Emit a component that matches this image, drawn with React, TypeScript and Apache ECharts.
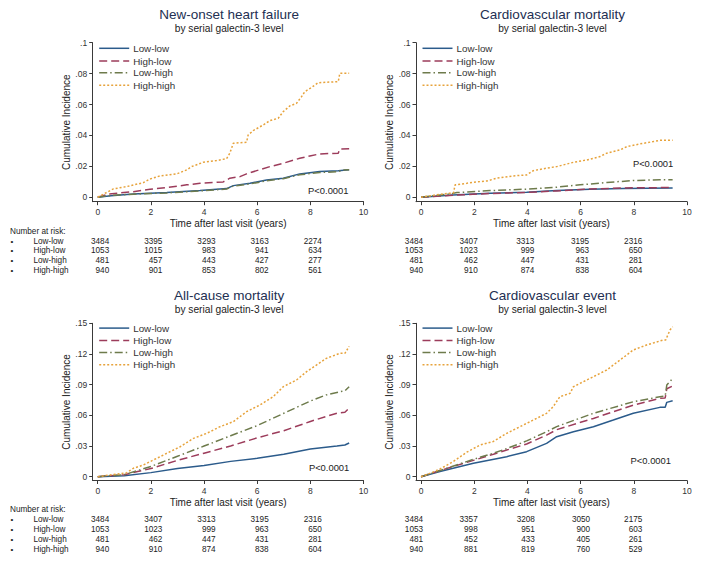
import React, { useEffect, useRef } from 'react';
import * as echarts from 'echarts';

const FONT = '"Liberation Sans", Arial, Helvetica, sans-serif';

const groups = ['Low-low', 'High-low', 'Low-high', 'High-high'];
const colors = ['#2b5b8b', '#9c3c5b', '#6e7b4c', '#e7a33c'];
const dashes: any[] = ['solid', [8, 4], [8, 3, 1.5, 3], [2, 2]];

const xTicks = [0, 2, 4, 6, 8, 10];
const riskTimes = [0, 2, 4, 6, 8];
const yTicksTop = [0, 0.02, 0.04, 0.06, 0.08, 0.1];
const yTicksBottom = [0, 0.03, 0.06, 0.09, 0.12, 0.15];

// New-onset heart failure
const hfLowLow = [[0, 0], [0.5, 0.001], [1.34, 0.0021], [2.6, 0.003], [3.85, 0.0043], [4.85, 0.0056], [5.1, 0.0075], [5.73, 0.009], [6.35, 0.0112], [6.98, 0.0123], [7.6, 0.0151], [7.98, 0.0159], [8.35, 0.0166], [9.05, 0.0172], [9.46, 0.0178]];
const hfHighLow = [[0, 0], [0.41, 0.0021], [1.34, 0.0036], [1.97, 0.0052], [2.6, 0.0062], [3.35, 0.008], [3.85, 0.009], [4.72, 0.0099], [4.97, 0.0123], [5.35, 0.0133], [5.6, 0.0151], [5.98, 0.0172], [6.48, 0.0198], [6.98, 0.022], [7.6, 0.0252], [7.98, 0.0267], [8.35, 0.028], [9.05, 0.0285], [9.11, 0.0312], [9.46, 0.0314]];
const hfLowHigh = [[0, 0], [0.5, 0.0012], [1.34, 0.002], [2.6, 0.0028], [3.85, 0.0041], [4.85, 0.0053], [5.1, 0.0072], [5.73, 0.0086], [6.35, 0.0106], [6.98, 0.012], [7.6, 0.0145], [7.98, 0.0153], [8.35, 0.016], [9.05, 0.0165], [9.2, 0.0176], [9.46, 0.0178]];
const hfHighHigh = [[0, 0], [0.59, 0.0054], [1.09, 0.0069], [1.71, 0.0094], [1.97, 0.0118], [2.34, 0.0138], [2.97, 0.0151], [3.35, 0.0177], [3.53, 0.0198], [3.97, 0.0226], [4.47, 0.0237], [4.85, 0.025], [4.97, 0.0285], [5.1, 0.0349], [5.6, 0.0356], [5.66, 0.0403], [5.85, 0.0431], [6.23, 0.0468], [6.48, 0.0496], [6.79, 0.0511], [6.98, 0.0554], [7.23, 0.0591], [7.48, 0.0608], [7.67, 0.0651], [7.79, 0.0683], [8.05, 0.0711], [8.29, 0.0741], [9.05, 0.0748], [9.11, 0.0802], [9.46, 0.0802]];

// Cardiovascular mortality
const cvmLowLow = [[0, 0], [1.2, 0.0015], [2.6, 0.0026], [3.97, 0.0032], [5.1, 0.0043], [6.35, 0.0052], [7.6, 0.0057], [9.46, 0.006]];
const cvmHighLow = [[0, 0], [1.2, 0.0013], [2.6, 0.0024], [3.97, 0.0031], [5.1, 0.0041], [6.35, 0.0053], [7.6, 0.006], [8.9, 0.0062], [9.46, 0.0064]];
const cvmLowHigh = [[0, 0], [1.09, 0.0021], [1.35, 0.003], [2.6, 0.0043], [3.97, 0.0052], [5.1, 0.0065], [5.98, 0.008], [6.98, 0.0095], [7.98, 0.0108], [8.98, 0.0113], [9.46, 0.0113]];
const cvmHighHigh = [[0, 0], [0.71, 0.0019], [1.09, 0.0026], [1.22, 0.0028], [1.28, 0.008], [1.72, 0.009], [1.97, 0.0097], [2.47, 0.0105], [2.85, 0.0123], [3.47, 0.0138], [3.97, 0.0144], [4.22, 0.0172], [4.72, 0.0188], [5.1, 0.0198], [5.73, 0.0226], [6.23, 0.0241], [6.73, 0.0263], [6.98, 0.0285], [7.48, 0.0306], [7.73, 0.0327], [8.23, 0.0345], [8.73, 0.036], [8.98, 0.0368], [9.46, 0.0368]];

// All-cause mortality
const acmLowLow = [[0, 0], [1, 0.001], [2, 0.004], [3, 0.008], [4, 0.011], [5, 0.015], [6, 0.018], [7, 0.022], [8, 0.027], [9, 0.03], [9.3, 0.031], [9.46, 0.033]];
const acmHighLow = [[0, 0], [1, 0.002], [1.5, 0.005], [2, 0.008], [3, 0.016], [4, 0.023], [5, 0.03], [6, 0.038], [7, 0.045], [8, 0.054], [8.6, 0.059], [9, 0.062], [9.3, 0.063], [9.46, 0.067]];
const acmLowHigh = [[0, 0], [1, 0.002], [1.5, 0.006], [2, 0.01], [3, 0.02], [4, 0.03], [5, 0.04], [6, 0.05], [7, 0.062], [8, 0.074], [8.6, 0.08], [9.1, 0.083], [9.3, 0.084], [9.46, 0.088]];
const acmHighHigh = [[0, 0], [0.71, 0.0026], [1.09, 0.0039], [1.34, 0.0082], [1.71, 0.0114], [2.09, 0.0163], [2.6, 0.0229], [3.1, 0.0293], [3.6, 0.0375], [4.1, 0.0424], [4.6, 0.0489], [5.1, 0.0538], [5.6, 0.0636], [6.1, 0.0701], [6.6, 0.0782], [6.98, 0.088], [7.48, 0.0946], [7.86, 0.1027], [8.23, 0.1092], [8.6, 0.1157], [9.11, 0.1206], [9.3, 0.1206], [9.46, 0.1275]];

// Cardiovascular event
const cveLowLow = [[0, 0], [0.71, 0.005], [1.97, 0.0131], [3.22, 0.0196], [3.97, 0.0245], [4.72, 0.0326], [5.1, 0.0391], [5.73, 0.044], [6.48, 0.0489], [7.23, 0.0554], [7.98, 0.062], [8.98, 0.0678], [9.18, 0.068], [9.24, 0.0727], [9.46, 0.0743]];
const cveHighLow = [[0, 0], [0.71, 0.006], [1.97, 0.016], [2.72, 0.022], [3.22, 0.0261], [3.97, 0.032], [4.72, 0.0407], [5.1, 0.046], [6.48, 0.057], [7.98, 0.07], [8.98, 0.0766], [9.18, 0.077], [9.24, 0.086], [9.46, 0.0887]];
const cveLowHigh = [[0, 0], [0.71, 0.006], [1.97, 0.017], [2.72, 0.023], [3.22, 0.0275], [3.97, 0.035], [4.72, 0.044], [5.1, 0.049], [6.48, 0.062], [7.98, 0.0733], [8.98, 0.0782], [9.18, 0.079], [9.24, 0.0896], [9.46, 0.0961]];
const cveHighHigh = [[0, 0], [0.4, 0.004], [0.71, 0.0075], [1.22, 0.015], [1.72, 0.024], [2.22, 0.031], [2.72, 0.0345], [3.22, 0.0424], [3.72, 0.0489], [4.22, 0.0554], [4.72, 0.062], [4.97, 0.0685], [5.22, 0.0782], [5.6, 0.0815], [5.73, 0.088], [6.48, 0.0978], [6.98, 0.1043], [7.48, 0.1141], [7.98, 0.1239], [8.48, 0.1288], [9.11, 0.1337], [9.2, 0.1337], [9.36, 0.1434], [9.46, 0.1467]];

// Number at risk
const hfRisk = [[3484, 3395, 3293, 3163, 2274], [1053, 1015, 983, 941, 634], [481, 457, 443, 427, 277], [940, 901, 853, 802, 561]];
const cvmRisk = [[3484, 3407, 3313, 3195, 2316], [1053, 1023, 999, 963, 650], [481, 462, 447, 431, 281], [940, 910, 874, 838, 604]];
const acmRisk = [[3484, 3407, 3313, 3195, 2316], [1053, 1023, 999, 963, 650], [481, 462, 447, 431, 281], [940, 910, 874, 838, 604]];
const cveRisk = [[3484, 3357, 3208, 3050, 2175], [1053, 998, 951, 900, 603], [481, 452, 433, 405, 261], [940, 881, 819, 760, 529]];

const panels = [
  { title: 'New-onset heart failure', series: [hfLowLow, hfHighLow, hfLowHigh, hfHighHigh], risk: hfRisk, yTicks: yTicksTop, yMin: -0.0029, yMax: 0.1,
    grid: { left: 92.7, top: 42.7, width: 270.8, height: 159 }, pPos: [348.5, 190], tableY: 231, offsets: [11.5, 11.5, 11.5, 11.5, 11.5], labels: true },
  { title: 'Cardiovascular mortality', series: [cvmLowLow, cvmHighLow, cvmLowHigh, cvmHighHigh], risk: cvmRisk, yTicks: yTicksTop, yMin: -0.0029, yMax: 0.1,
    grid: { left: 416, top: 42.7, width: 271, height: 159 }, pPos: [673.3, 163.3], tableY: 231, offsets: [2, 3.5, 7, 8.5, 8.5], labels: false },
  { title: 'All-cause mortality', series: [acmLowLow, acmHighLow, acmLowHigh, acmHighHigh], risk: acmRisk, yTicks: yTicksBottom, yMin: -0.0037, yMax: 0.15,
    grid: { left: 92.7, top: 323.3, width: 270.8, height: 157.2 }, pPos: [349.3, 467.3], tableY: 509.5, offsets: [11.5, 11.5, 11.5, 11.5, 11.5], labels: true },
  { title: 'Cardiovascular event', series: [cveLowLow, cveHighLow, cveLowHigh, cveHighHigh], risk: cveRisk, yTicks: yTicksBottom, yMin: -0.0037, yMax: 0.15,
    grid: { left: 416, top: 323.3, width: 271, height: 157.2 }, pPos: [671, 460.3], tableY: 509.5, offsets: [2, 3.5, 7.5, 9.5, 8.5], labels: false },
];

const yFmt = (v: number) => (v === 0 ? '0' : v.toFixed(2).replace(/^0/, '').replace(/0$/, ''));

export default function App() {
  const ref = useRef<HTMLDivElement>(null);
  useEffect(() => {
    if (!ref.current) return;
    const chart = echarts.init(ref.current, undefined, { renderer: 'svg' });
    const axisColor = '#3a3a3a';
    const option: any = {
      animation: false,
      backgroundColor: '#ffffff',
      textStyle: { fontFamily: FONT },
      title: panels.map((p) => ({
        text: p.title,
        subtext: 'by serial galectin-3 level',
        left: p.grid.left + p.grid.width / 2 + 1,
        top: p.grid.top - 35,
        textAlign: 'center',
        padding: 0,
        itemGap: 2,
        textStyle: { fontFamily: FONT, fontSize: 13.5, fontWeight: 'normal', color: '#232f52' },
        subtextStyle: { fontFamily: FONT, fontSize: 10.2, color: '#222' },
      })),
      grid: panels.map((p) => ({ ...p.grid, containLabel: false })),
      xAxis: panels.map((p, i) => ({
        type: 'value', gridIndex: i, min: -0.19, max: 10,
        name: 'Time after last visit (years)', nameLocation: 'middle', nameGap: 17,
        nameTextStyle: { fontFamily: FONT, fontSize: 10, color: '#222' },
        axisLine: { show: true, onZero: false, lineStyle: { color: axisColor, width: 1 } },
        axisTick: { show: true, length: 3.5, customValues: xTicks, lineStyle: { color: axisColor } },
        axisLabel: { customValues: xTicks, fontSize: 8.5, color: '#333', margin: 5.5, fontFamily: FONT },
        splitLine: { show: false },
      })),
      yAxis: panels.map((p, i) => ({
        type: 'value', gridIndex: i, min: p.yMin, max: p.yMax,
        name: 'Cumulative Incidence', nameLocation: 'middle', nameGap: 21,
        nameTextStyle: { fontFamily: FONT, fontSize: 10, color: '#222' },
        axisLine: { show: true, onZero: false, lineStyle: { color: axisColor, width: 1 } },
        axisTick: { show: true, length: 3.5, customValues: p.yTicks, lineStyle: { color: axisColor } },
        axisLabel: { customValues: p.yTicks, fontSize: 8.5, color: '#333', margin: 5.5, fontFamily: FONT, formatter: yFmt },
        splitLine: { show: false },
      })),
      series: panels.flatMap((p, i) =>
        p.series.map((data, k) => ({
          type: 'line', name: groups[k], xAxisIndex: i, yAxisIndex: i, data,
          showSymbol: false, symbol: 'none', silent: true,
          lineStyle: { color: colors[k], width: 1.5, type: dashes[k] },
          z: 2 + k,
        }))
      ),
    };
    chart.setOption(option);

    const graphics: any[] = [];
    panels.forEach((p, i) => {
      const gl = p.grid.left;
      const gt = p.grid.top;
      const rowOff = gt < 100 ? [5.6, 18.3, 30, 42.6] : [4.8, 17.2, 29.2, 41.4];
      groups.forEach((g, k) => {
        const y = gt + rowOff[k];
        graphics.push({
          type: 'line', silent: true,
          shape: { x1: gl + 6.5, y1: y, x2: gl + 36.5, y2: y },
          style: { stroke: colors[k], lineWidth: 1.5, lineDash: dashes[k] === 'solid' ? null : dashes[k] },
        });
        graphics.push({
          type: 'text', silent: true,
          style: { text: g, x: gl + 40.5, y, fontSize: 9.8, fontFamily: FONT, fill: '#333', verticalAlign: 'middle', align: 'left' },
        });
      });
      graphics.push({
        type: 'text', silent: true,
        style: { text: 'P<0.0001', x: p.pPos[0], y: p.pPos[1], fontSize: 9.4, fontFamily: FONT, fill: '#222', align: 'right', verticalAlign: 'middle' },
      });
      // Number at risk table
      if (p.labels) {
        graphics.push({
          type: 'text', silent: true,
          style: { text: 'Number at risk:', x: 10, y: p.tableY, fontSize: 8.2, fontFamily: FONT, fill: '#222', verticalAlign: 'middle', align: 'left' },
        });
      }
      p.risk.forEach((row, k) => {
        const y = p.tableY + 10 + k * 9.9;
        if (p.labels) {
          graphics.push({ type: 'text', silent: true, style: { text: '•', x: 12, y, fontSize: 8, fontFamily: FONT, fill: '#222', verticalAlign: 'middle', align: 'center' } });
          graphics.push({ type: 'text', silent: true, style: { text: groups[k], x: 33.5, y, fontSize: 8.2, fontFamily: FONT, fill: '#222', verticalAlign: 'middle', align: 'left' } });
        }
        row.forEach((n, c) => {
          const px = chart.convertToPixel({ xAxisIndex: i }, riskTimes[c]) as number;
          graphics.push({ type: 'text', silent: true, style: { text: String(n), x: px + p.offsets[c], y, fontSize: 8.2, fontFamily: FONT, fill: '#222', verticalAlign: 'middle', align: 'right' } });
        });
      });
    });
    chart.setOption({ graphic: graphics });
    return () => chart.dispose();
  }, []);
  return <div ref={ref} style={{ position: 'fixed', left: 0, top: 0, width: 701, height: 564, background: '#fff' }} />;
}
